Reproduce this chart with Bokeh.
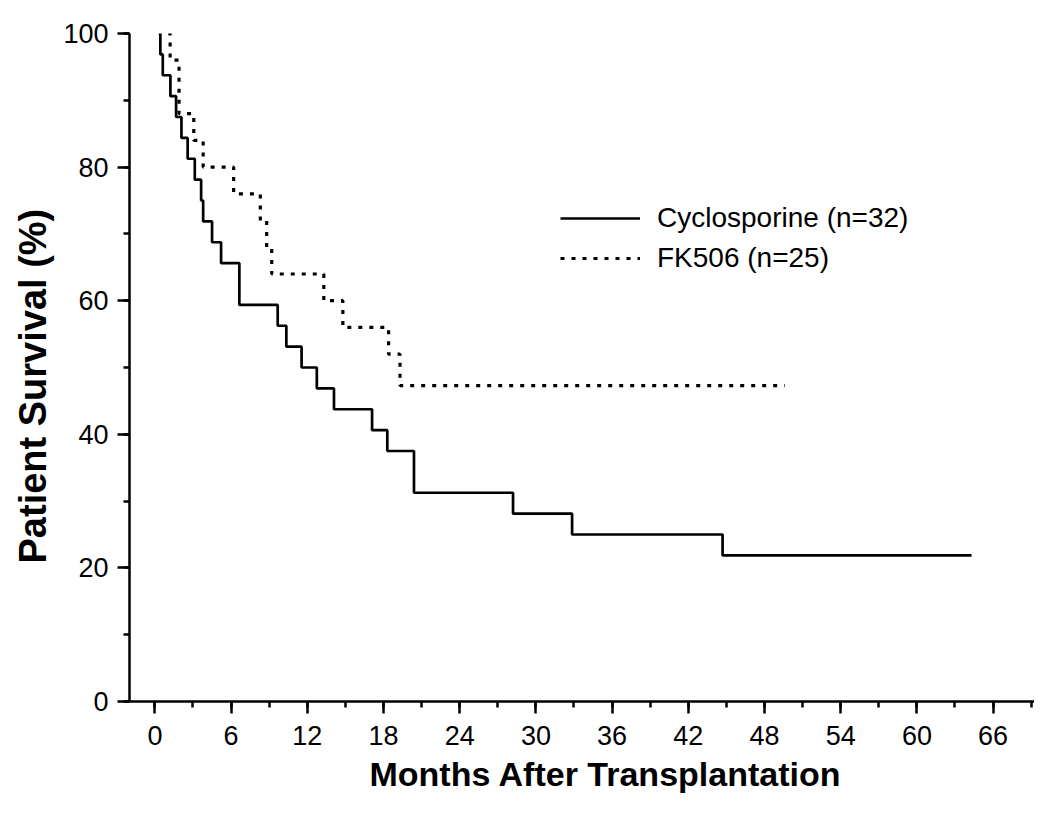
from bokeh.plotting import figure
from bokeh.models import Range1d, SingleIntervalTicker, Title, Legend, LegendItem
from bokeh.embed import file_html
from bokeh.resources import INLINE

# ---- data ----
cs_months = [0.3, 0.43, 0.62, 1.22, 1.67, 2.09, 2.58, 3.14, 3.64, 3.8, 4.5, 5.21, 6.65,
             9.67, 10.35, 11.55, 12.75, 14.1, 17.1, 18.3, 20.4, 28.2, 32.85, 44.7, 64.3]
cs_surv = [100, 96.875, 93.75, 90.625, 87.5, 84.375, 81.25, 78.125, 75, 71.875, 68.75,
           65.625, 59.375, 56.25, 53.125, 50, 46.875, 43.75, 40.625, 37.5, 31.25, 28.125,
           25, 21.875, 21.875]

fk_months = [1.05, 1.2, 1.9, 3.06, 3.8, 6.2, 8.3, 8.8, 9.2, 13.3, 14.8, 18.4, 19.3, 49.6]
fk_surv = [100, 96, 88, 84, 80, 76, 72, 68, 64, 60, 56, 52, 47.3, 47.3]

cs_label = "Cyclosporine (n=32)"
fk_label = "FK506 (n=25)"
x_title = "Months After Transplantation"
y_title = "Patient Survival (%)"

FONT = "Liberation Sans"

p = figure(width=1034, height=798, x_range=Range1d(-2, 69.26), y_range=Range1d(0, 100),
           output_backend="svg", toolbar_location=None,
           min_border_left=129, min_border_right=0, min_border_top=33, min_border_bottom=97)
p.outline_line_color = None
p.grid.visible = False
p.background_fill_color = "white"
p.border_fill_color = "white"

r1 = p.step(cs_months, cs_surv, mode="after", line_color="black", line_width=2.7)
r2 = p.step(fk_months, fk_surv, mode="after", line_color="black", line_width=3.2,
            line_dash="4 7")

for ax, interval, standoff in ((p.xaxis[0], 6, 12), (p.yaxis[0], 20, 9)):
    ax.ticker = SingleIntervalTicker(interval=interval, num_minor_ticks=2)
    ax.axis_line_width = 2.5
    ax.axis_line_color = "black"
    ax.major_tick_line_width = 2.5
    ax.minor_tick_line_width = 2.5
    ax.major_tick_line_color = "black"
    ax.minor_tick_line_color = "black"
    ax.major_tick_out = 12
    ax.major_tick_in = 0
    ax.minor_tick_out = 6
    ax.minor_tick_in = 0
    ax.major_label_text_font = FONT
    ax.major_label_text_font_size = "27px"
    ax.major_label_text_color = "black"
    ax.major_label_standoff = standoff

p.add_layout(Title(text=x_title, align="left", offset=240,
                   text_font=FONT, text_font_size="34px", text_font_style="bold",
                   text_color="black"), "below")
p.add_layout(Title(text=y_title, align="left", offset=138, vertical_align="top",
                   text_font=FONT, text_font_size="38px", text_font_style="bold",
                   text_color="black"), "left")

legend = Legend(items=[LegendItem(label=cs_label, renderers=[r1]),
                       LegendItem(label=fk_label, renderers=[r2])],
                location=(431, 423), glyph_width=80, glyph_height=40, label_height=40,
                spacing=0, padding=0, margin=0, label_standoff=17,
                label_text_font=FONT, label_text_font_size="28px",
                label_text_color="black", border_line_alpha=0, background_fill_alpha=0)
p.add_layout(legend)

open("out.html", "w").write(file_html(p, INLINE))
